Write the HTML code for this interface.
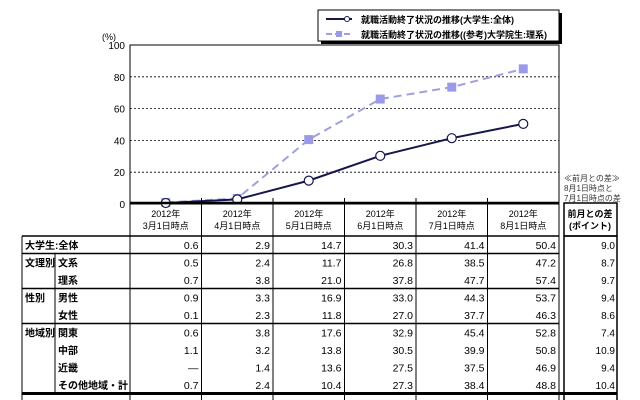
<!DOCTYPE html>
<html><head><meta charset="utf-8"><style>
body{margin:0;background:#fff;}
svg{display:block;font-family:"Liberation Sans","Noto Sans CJK JP",sans-serif;}
</style></head><body>
<svg id="c" width="640" height="400" viewBox="0 0 640 400">
<rect width="640" height="400" fill="#fff"/>
</svg>
<script>
const categories=["2012年|3月1日時点","2012年|4月1日時点","2012年|5月1日時点","2012年|6月1日時点","2012年|7月1日時点","2012年|8月1日時点"];
const seriesAll=[0.6,2.9,14.7,30.3,41.4,50.4];
const seriesGrad=[1.0,3.5,40.5,66.0,73.5,85.0];
const yTicks=[0,20,40,60,80,100];
const rowGroups=["大学生:全体","文理別","","性別","","地域別","","",""];
const rowNames=["","文系","理系","男性","女性","関東","中部","近畿","その他地域・計"];
const tableVals=[
["0.6","2.9","14.7","30.3","41.4","50.4"],
["0.5","2.4","11.7","26.8","38.5","47.2"],
["0.7","3.8","21.0","37.8","47.7","57.4"],
["0.9","3.3","16.9","33.0","44.3","53.7"],
["0.1","2.3","11.8","27.0","37.7","46.3"],
["0.6","3.8","17.6","32.9","45.4","52.8"],
["1.1","3.2","13.8","30.5","39.9","50.8"],
["—","1.4","13.6","27.5","37.5","46.9"],
["0.7","2.4","10.4","27.3","38.4","48.8"]];
const diffVals=["9.0","8.7","9.7","9.4","8.6","7.4","10.9","9.4","10.4"];

const svg=document.getElementById('c');const NS='http://www.w3.org/2000/svg';
function mk(t,a,txt,name){const e=document.createElementNS(NS,t);for(const k in a)e.setAttribute(k,a[k]);if(txt!=null)e.textContent=txt;


svg.appendChild(e);return e;}
const L=130,R=559,T=45,B=204,colW=(R-L)/categories.length;
const x=i=>L+colW*(i+0.5);const y=v=>B-(v/100)*(B-T);
// grid
yTicks.forEach(v=>{if(v>0&&v<100)mk('line',{x1:L,x2:R,y1:y(v),y2:y(v),stroke:'#000','stroke-width':0.8,'stroke-dasharray':'2,2'},null,'grid-line');
mk('text',{x:L-5,y:y(v)+4,'text-anchor':'end','font-size':10},String(v),'y-tick-label');});
mk('text',{x:L-28,y:T-5,'font-size':9},'(%)','y-axis-unit');
mk('rect',{x:L,y:T,width:R-L,height:B-T,fill:'none',stroke:'#000','stroke-width':1},null,'plot-frame');
// series
const pg=seriesGrad.map((v,i)=>x(i)+','+y(v)).join(' ');
mk('polyline',{points:pg,fill:'none',stroke:'#a0a0e0','stroke-width':2,'stroke-dasharray':'8,5'},null,'line-grad-science');
seriesGrad.forEach((v,i)=>mk('rect',{x:x(i)-4.5,y:y(v)-4.5,width:9,height:9,fill:'#9a9ae6'},null,'point-grad-science'));
const pa=seriesAll.map((v,i)=>x(i)+','+y(v)).join(' ');
mk('polyline',{points:pa,fill:'none',stroke:'#16164d','stroke-width':2},null,'line-undergrad-all');
seriesAll.forEach((v,i)=>mk('circle',{cx:x(i),cy:y(v),r:4.5,fill:'#fff',stroke:'#16164d','stroke-width':1.2},null,'point-undergrad-all'));
// legend
mk('rect',{x:321,y:13,width:241,height:31,fill:'#000'},null,'legend-shadow');
mk('rect',{x:318,y:10,width:241,height:31,fill:'#fff',stroke:'#000'},null,'legend-box');
mk('line',{x1:326,x2:352,y1:19,y2:19,stroke:'#16164d','stroke-width':2},null,'legend-line-all');
mk('circle',{cx:347,cy:19,r:2.5,fill:'#fff',stroke:'#16164d'},null,'legend-marker-all');
mk('text',{x:361,y:23,'font-size':9,'font-weight':'bold'},'就職活動終了状況の推移(大学生:全体)','legend-entry-all');
mk('line',{x1:326,x2:352,y1:34,y2:34,stroke:'#a0a0e0','stroke-width':2,'stroke-dasharray':'6,3'},null,'legend-line-grad');
mk('rect',{x:336,y:31,width:6,height:6,fill:'#9a9ae6'},null,'legend-marker-grad');
mk('text',{x:361,y:38,'font-size':9,'font-weight':'bold'},'就職活動終了状況の推移((参考)大学院生:理系)','legend-entry-grad');
// annotation
['≪前月との差≫','8月1日時点と','7月1日時点の差'].forEach((t,i)=>mk('text',{x:564,y:181+i*10,'font-size':8,fill:'#333'},t,'diff-note'));
// header
const HT=203,HB=236;
for(let i=0;i<=categories.length;i++)mk('line',{x1:L+colW*i,x2:L+colW*i,y1:B-6,y2:400,stroke:'#000','stroke-width':1},null,'col-divider');
mk('line',{x1:L,x2:R,y1:HT,y2:HT,stroke:'#000','stroke-width':2.5},null,'header-top');
categories.forEach((c,i)=>{const p=c.split('|');mk('text',{x:x(i),y:217,'text-anchor':'middle','font-size':9},p[0],'col-header');mk('text',{x:x(i),y:229,'text-anchor':'middle','font-size':9},p[1],'col-header');});
mk('rect',{x:564,y:HT,width:53,height:HB-HT,fill:'none',stroke:'#000','stroke-width':1.5},null,'diff-header');
mk('text',{x:590,y:217,'text-anchor':'middle','font-size':9,'font-weight':'bold'},'前月との差','diff-header-text');
mk('text',{x:590,y:229,'text-anchor':'middle','font-size':9,'font-weight':'bold'},'(ポイント)','diff-header-text');
// body
const rh=17.5,TL=22;
mk('line',{x1:TL,x2:R,y1:HB,y2:HB,stroke:'#000','stroke-width':1.5},null,'body-top');
mk('line',{x1:TL,x2:TL,y1:HB,y2:400,stroke:'#000'},null,'table-left');
mk('line',{x1:564,x2:564,y1:HB,y2:400,stroke:'#000','stroke-width':1.5},null,'diff-left');
mk('line',{x1:617,x2:617,y1:HB,y2:400,stroke:'#000','stroke-width':1.5},null,'diff-right');
mk('line',{x1:564,x2:617,y1:HB,y2:HB,stroke:'#000','stroke-width':1.5},null,'diff-body-top');
mk('line',{x1:55,x2:55,y1:HB+rh,y2:HB+rh*9,stroke:'#000'},null,'group-divider');
[1,3,5].forEach(k=>mk('line',{x1:TL,x2:R,y1:HB+rh*k,y2:HB+rh*k,stroke:'#000','stroke-width':1.5},null,'group-border'));
mk('line',{x1:TL,x2:617,y1:HB+rh*9,y2:HB+rh*9,stroke:'#000','stroke-width':3},null,'table-bottom-border');
tableVals.forEach((row,r)=>{const ty=HB+rh*r+13;
if(rowGroups[r])mk('text',{x:25,y:ty,'font-size':10,'font-weight':'bold'},rowGroups[r],'row-group');
if(rowNames[r])mk('text',{x:58,y:ty,'font-size':10,'font-weight':'bold'},rowNames[r],'row-label');
row.forEach((v,i)=>mk('text',{x:L+colW*(i+1)-3,y:ty,'text-anchor':'end','font-size':10.5},v,'cell-value'));
mk('text',{x:615,y:ty,'text-anchor':'end','font-size':10},diffVals[r],'diff-value');});
</script>
</body></html>
